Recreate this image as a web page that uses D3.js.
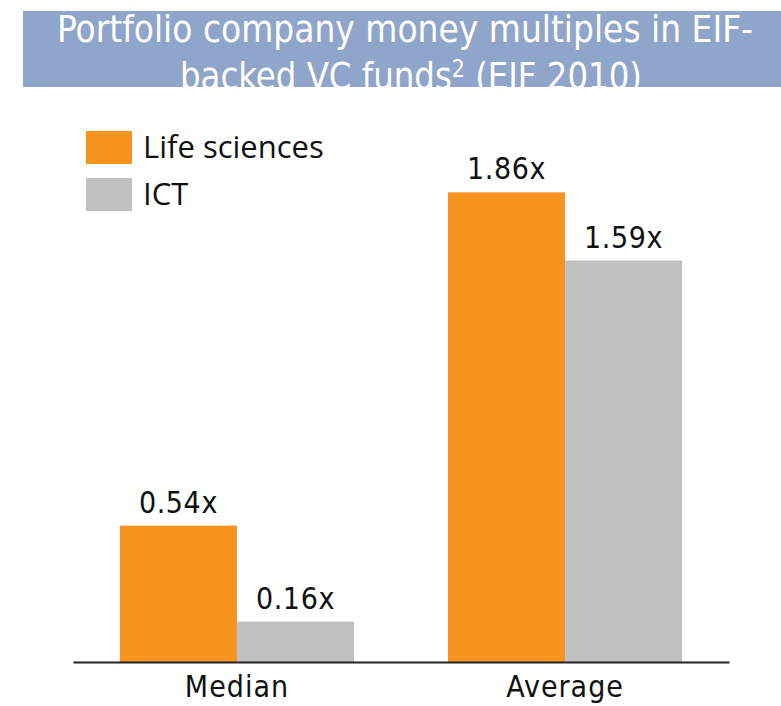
<!DOCTYPE html>
<html>
<head>
<meta charset="utf-8">
<script src="https://cdn.jsdelivr.net/npm/d3@7"></script>
<style>
  body { margin: 0; background: #fff; }
  svg { display: block; }
</style>
</head>
<body>
<div id="chart"></div>
<script>
// data
const categories = ['Median', 'Average']
const seriesNames = ['Life sciences', 'ICT']
const lifeSciences = [0.54, 1.86]
const ict = [0.16, 1.59]
const seriesColors = ['#F7931E', '#C0C0C0']

const width = 781, height = 706
const baseline = 662

const svg = d3.select('#chart').append('svg')
  .attr('width', width)
  .attr('height', height)

// title box
svg.append('rect')
  .attr('x', 23).attr('y', 11)
  .attr('width', width - 23).attr('height', 76)
  .attr('fill', '#8FA5CA')

svg.append('clipPath').attr('id', 'titleClip')
  .append('rect')
  .attr('x', 23).attr('y', 11)
  .attr('width', width - 23).attr('height', 76)

const titleFont = 'DejaVu Sans Condensed, DejaVu Sans, sans-serif'

// one text element, two lines (second line is cut by the box like in the original)
const title = svg.append('text')
  .attr('clip-path', 'url(#titleClip)')
  .attr('text-anchor', 'middle')
  .attr('font-family', titleFont)
  .attr('font-size', 38)
  .attr('fill', '#fff')

title.append('tspan')
  .attr('x', 405).attr('y', 42)
  .attr('textLength', 696)
  .attr('lengthAdjust', 'spacingAndGlyphs')
  .text('Portfolio company money multiples in EIF-')

const line2 = title.append('tspan')
  .attr('x', 411).attr('y', 89)
  .attr('textLength', 462)
  .attr('lengthAdjust', 'spacingAndGlyphs')
line2.append('tspan').text('backed VC funds')
line2.append('tspan').attr('font-size', 24).attr('dy', -12).text('2')
line2.append('tspan').attr('dy', 12).text(' (EIF 2010)')

// scales
const x = d3.scaleBand()
  .domain(categories)
  .range([73, 729])
  .paddingInner(0.2866)
  .paddingOuter(0.143)

const xSub = d3.scaleBand()
  .domain(seriesNames)
  .range([0, x.bandwidth()])

const y = d3.scaleLinear()
  .domain([0, 2])
  .range([baseline, baseline - 505])

const color = d3.scaleOrdinal().domain(seriesNames).range(seriesColors)

const rows = []
categories.forEach(function (c, i) {
  rows.push({ cat: c, series: seriesNames[0], value: lifeSciences[i] })
  rows.push({ cat: c, series: seriesNames[1], value: ict[i] })
})

svg.selectAll('rect.bar')
  .data(rows)
  .enter()
  .append('rect')
  .attr('class', 'bar')
  .attr('x', function (d) { return x(d.cat) + xSub(d.series) })
  .attr('y', function (d) { return y(d.value) })
  .attr('width', xSub.bandwidth())
  .attr('height', function (d) { return y(0) - y(d.value) })
  .attr('fill', function (d) { return color(d.series) })

const labelFont = 'DejaVu Sans Condensed, DejaVu Sans, sans-serif'
svg.selectAll('text.val')
  .data(rows)
  .enter()
  .append('text')
  .attr('class', 'val')
  .attr('x', function (d) { return x(d.cat) + xSub(d.series) + xSub.bandwidth() / 2 })
  .attr('y', function (d) { return y(d.value) - 13 })
  .attr('text-anchor', 'middle')
  .attr('font-family', labelFont)
  .attr('font-size', 30)
  .attr('letter-spacing', 0.6)
  .attr('fill', '#111')
  .text(function (d) { return d.value.toFixed(2) + 'x' })

// axis
const axis = svg.append('g')
  .attr('transform', 'translate(0,' + baseline + ')')
  .call(d3.axisBottom(x).tickSize(0).tickPadding(11))
axis.select('.domain').attr('stroke', '#222').attr('stroke-width', 2)
axis.selectAll('.tick text')
  .attr('font-family', labelFont)
  .attr('font-size', 30)
  .attr('letter-spacing', 1)
  .attr('fill', '#111')
  .attr('dy', '0.8em')

// legend
const legend = svg.selectAll('g.leg')
  .data(seriesNames)
  .enter()
  .append('g')
  .attr('class', 'leg')
  .attr('transform', function (d, i) { return 'translate(86,' + (131 + i * 47) + ')' })

legend.append('rect')
  .attr('width', 46).attr('height', 33)
  .attr('fill', function (d) { return color(d) })

legend.append('text')
  .attr('x', 57).attr('y', 27)
  .attr('font-family', 'Open Sans, Noto Sans, sans-serif')
  .attr('font-size', 31)
  .attr('fill', '#111')
  .text(function (d) { return d })
</script>
</body>
</html>
